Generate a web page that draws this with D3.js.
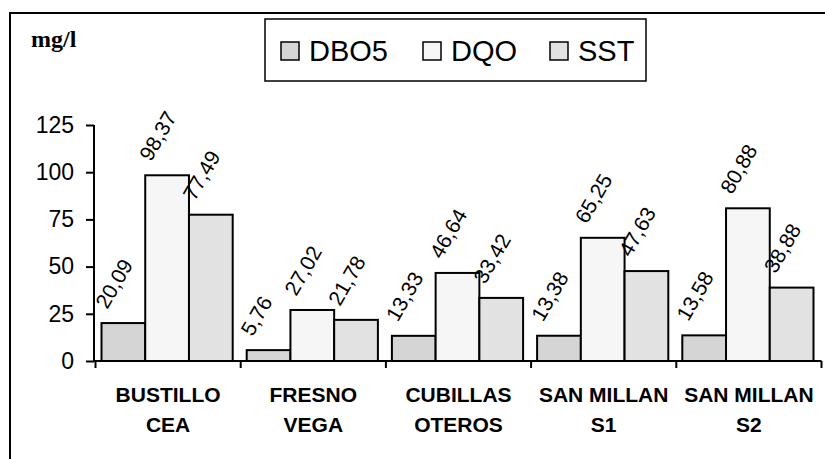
<!DOCTYPE html>
<html>
<head>
<meta charset="utf-8">
<script src="https://cdn.jsdelivr.net/npm/d3@7"></script>
<style>
  body { margin: 0; background: #fff; }
  svg { display: block; font-family: Arial, "Liberation Sans", sans-serif; }
</style>
</head>
<body>
<script>
// data
const categories = [["BUSTILLO", "CEA"], ["FRESNO", "VEGA"], ["CUBILLAS", "OTEROS"], ["SAN MILLAN", "S1"], ["SAN MILLAN", "S2"]];
const seriesNames = ["DBO5", "DQO", "SST"];
const dbo5 = [20.09, 5.76, 13.33, 13.38, 13.58];
const dqo = [98.37, 27.02, 46.64, 65.25, 80.88];
const sst = [77.49, 21.78, 33.42, 47.63, 38.88];
const yTicks = [0, 25, 50, 75, 100, 125];

const colors = { DBO5: "#d5d5d5", DQO: "#f6f6f6", SST: "#e2e2e2" };

let width = 825;
let height = 459;

let data = categories.map((c, i) => ({
    key: c.join(" "),
    lines: c,
    values: [
        { name: "DBO5", value: dbo5[i] },
        { name: "DQO", value: dqo[i] },
        { name: "SST", value: sst[i] }
    ]
}));

const svg = d3.select("body").append("svg")
    .attr("width", width)
    .attr("height", height);

// outer frame (runs off the right / bottom edges)
svg.append("rect")
    .attr("x", 10).attr("y", 13)
    .attr("width", 840).attr("height", 470)
    .attr("fill", "none")
    .attr("stroke", "#000")
    .attr("stroke-width", 2);

// x = ƒ(category)
let x = d3.scaleBand()
    .domain(data.map(d => d.key))
    .range([95.5, 821.5])
    .padding(0);

// x1 = ƒ(series) inside a category
let x1 = d3.scaleBand()
    .domain(seriesNames)
    .range([6, x.bandwidth() - 8]);

// y = ƒ(n)
let y = d3.scaleLinear()
    .domain([0, 125])
    .range([361, 125]);

// bars
const groups = svg.append("g")
    .selectAll("g")
    .data(data)
    .join("g")
    .attr("transform", d => `translate(${x(d.key)},0)`);

groups.selectAll("rect")
    .data(d => d.values)
    .join("rect")
    .attr("x", d => x1(d.name))
    .attr("y", d => y(d.value))
    .attr("width", x1.bandwidth())
    .attr("height", d => y(0) - y(d.value))
    .attr("fill", d => colors[d.name])
    .attr("stroke", "#000")
    .attr("stroke-width", 2);

// rotated value labels
groups.selectAll("text")
    .data(d => d.values)
    .join("text")
    .attr("transform", d => `translate(${x1(d.name) + x1.bandwidth() / 2 - 16},${y(d.value) - 13}) rotate(-60)`)
    .attr("font-size", 21)
    .attr("fill", "#000")
    .text(d => d.value.toFixed(2).replace(".", ","));

// y axis
svg.append("g")
    .attr("transform", "translate(94,0)")
    .call(d3.axisLeft(y).tickValues(yTicks).tickSize(8).tickPadding(12))
    .call(g => g.select(".domain").attr("stroke-width", 2).attr("d", `M0,${y(125)}V${y(0)}`))
    .call(g => g.selectAll(".tick line").attr("stroke-width", 2))
    .call(g => g.selectAll(".tick text")
        .attr("font-size", 23)
        .attr("font-family", "Arial, 'Liberation Sans', sans-serif")
        .attr("fill", "#000"));

// x axis
svg.append("g")
    .attr("transform", `translate(0,${y(0)})`)
    .call(d3.axisBottom(x).tickValues([]).tickSizeOuter(0))
    .call(g => g.select(".domain").attr("stroke-width", 2).attr("d", `M94,0H${x.range()[1]}`));

// category separators
svg.append("g")
    .selectAll("line")
    .data(x.domain().map(k => x(k)).concat([x.range()[1]]))
    .join("line")
    .attr("x1", d => d).attr("x2", d => d)
    .attr("y1", y(0)).attr("y2", y(0) + 7)
    .attr("stroke", "#000")
    .attr("stroke-width", 2);

// category labels
const catText = svg.append("g")
    .selectAll("text")
    .data(data)
    .join("text")
    .attr("text-anchor", "middle")
    .attr("font-size", 21)
    .attr("font-weight", "bold");

catText.selectAll("tspan")
    .data(d => d.lines.map(l => ({ l, cx: x(d.key) + x.bandwidth() / 2 })))
    .join("tspan")
    .attr("x", d => d.cx)
    .attr("y", (d, i) => 401.5 + i * 30)
    .text(d => d.l);

// unit label
svg.append("text")
    .attr("x", 31)
    .attr("y", 46.5)
    .attr("font-family", "'Liberation Serif', 'Times New Roman', serif")
    .attr("font-weight", "bold")
    .attr("font-size", 24)
    .text("mg/l");

// legend
const legend = svg.append("g");
legend.append("rect")
    .attr("x", 265).attr("y", 19)
    .attr("width", 381).attr("height", 62)
    .attr("fill", "#fff")
    .attr("stroke", "#000")
    .attr("stroke-width", 1.5);

const legendX = [281, 423, 550];
const item = legend.selectAll("g.item")
    .data(seriesNames)
    .join("g")
    .attr("class", "item")
    .attr("transform", (d, i) => `translate(${legendX[i]},42)`);

item.append("rect")
    .attr("width", 18).attr("height", 18)
    .attr("fill", d => colors[d])
    .attr("stroke", "#000")
    .attr("stroke-width", 1.5);

item.append("text")
    .attr("x", 28)
    .attr("y", 18.5)
    .attr("font-size", 29)
    .text(d => d);
</script>
</body>
</html>
